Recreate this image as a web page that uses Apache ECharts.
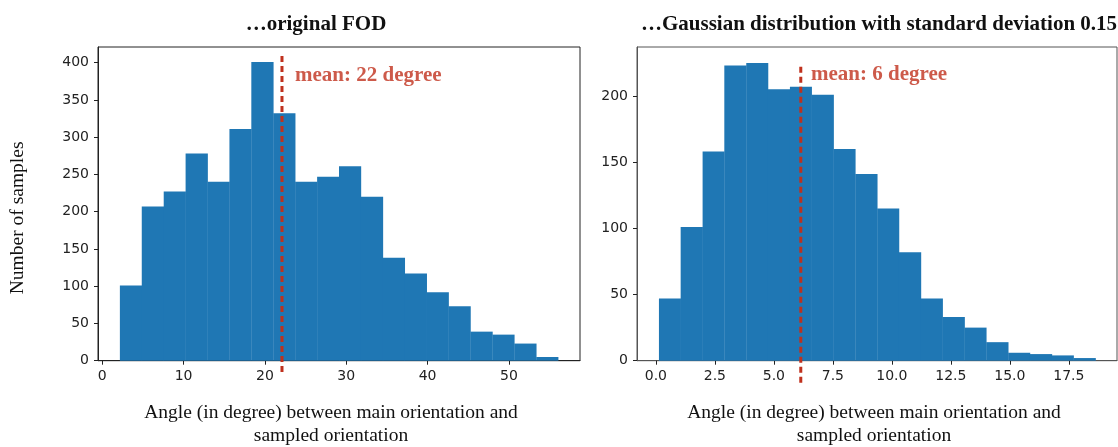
<!DOCTYPE html>
<html>
<head>
<meta charset="utf-8">
<script src="https://cdn.jsdelivr.net/npm/echarts@6/dist/echarts.min.js"></script>
<style>
html,body{margin:0;padding:0;background:#fff;}
#chart{width:1118px;height:447px;}
</style>
</head>
<body>
<div id="chart"></div>
<script>
// ---- Data ----
const leftTitle = '\u2026original FOD';
const rightTitle = '\u2026Gaussian distribution with standard deviation 0.15';
const xName = 'Angle (in degree) between main orientation and\nsampled orientation';
const yName = 'Number of samples';

const leftEdges = [2.17, 4.86, 7.56, 10.25, 12.95, 15.64, 18.33, 21.03, 23.72, 26.42, 29.11,
                   31.80, 34.50, 37.19, 39.89, 42.58, 45.27, 47.97, 50.66, 53.36, 56.05];
const leftCounts = [101, 207, 227, 278, 240, 311, 401, 332, 240, 247, 261,
                    220, 138, 117, 92, 73, 39, 35, 23, 5];
const leftMean = 22.1;
const leftMeanLabel = 'mean: 22 degree';

const rightEdges = [0.13, 1.05, 1.98, 2.90, 3.83, 4.75, 5.68, 6.60, 7.53, 8.45, 9.38,
                    10.30, 11.23, 12.15, 13.08, 14.00, 14.93, 15.85, 16.78, 17.70, 18.63];
const rightCounts = [47, 101, 158, 223, 225, 205, 207, 201, 160, 141,
                     115, 82, 47, 33, 25, 14, 6, 5, 4, 2];
const rightMean = 6.14;
const rightMeanLabel = 'mean: 6 degree';

const leftXTicks = [0, 10, 20, 30, 40, 50];
const leftYTicks = [0, 50, 100, 150, 200, 250, 300, 350, 400];
const rightXTicks = [0, 2.5, 5, 7.5, 10, 12.5, 15, 17.5];
const rightYTicks = [0, 50, 100, 150, 200];

// ---- Build ----
function bins(edges, counts){
  return counts.map((c,i)=>[edges[i], edges[i+1], c]);
}
const barColor = '#1f77b4';
const red = '#c0311d';
function renderBar(params, api){
  const x0 = api.value(0), x1 = api.value(1), h = api.value(2);
  const p0 = api.coord([x0, h]);
  const p1 = api.coord([x1, 0]);
  return {type:'rect', shape:{x:p0[0], y:p0[1], width:p1[0]-p0[0]+0.3, height:p1[1]-p0[1]},
          style:{fill:barColor}};
}
const tickFont = {fontFamily:'DejaVu Sans', fontSize:14, color:'#222'};
function xAxis(idx, min, max, ticks, fmt, lineColor, shift){
  return {type:'value', gridIndex:idx, min:min, max:max,
    axisLine:{show:true, onZero:false, lineStyle:{color:lineColor, width:1}},
    axisTick:{show:true, inside:false, length:4, customValues:ticks, lineStyle:{color:'#222'}},
    axisLabel:Object.assign({margin:9, customValues:ticks, formatter:fmt}, tickFont),
    splitLine:{show:false},
    name:xName, nameLocation:'middle', nameGap:40,
    nameTextStyle:{fontFamily:'Liberation Serif', fontSize:19.5, color:'#111', lineHeight:23.5,
                   padding:[0, shift, 0, 0]}};
}
function yAxis(idx, max, ticks, name, lineColor){
  const a = {type:'value', gridIndex:idx, min:0, max:max,
    axisLine:{show:true, onZero:false, lineStyle:{color:lineColor, width:1}},
    axisTick:{show:true, inside:false, length:4, customValues:ticks, lineStyle:{color:'#222'}},
    axisLabel:Object.assign({margin:9, customValues:ticks}, tickFont),
    splitLine:{show:false}};
  if(name){
    a.name = name; a.nameLocation='middle'; a.nameGap=70; a.nameRotate=90;
    a.nameTextStyle={fontFamily:'Liberation Serif', fontSize:19.5, color:'#111', padding:[0,28,0,0]};
  }
  return a;
}
const meanLabelStyle = {show:true, position:'right', distance:0,
  fontFamily:'Liberation Serif', fontWeight:'bold', fontSize:21, color:red};

const option = {
  animation:false,
  backgroundColor:'#fff',
  title:[
    {text:leftTitle, left:311, top:9, textAlign:'center',
     textStyle:{fontFamily:'Liberation Serif', fontWeight:'bold', fontSize:21, color:'#111'}},
    {text:rightTitle, left:874, top:9, textAlign:'center',
     textStyle:{fontFamily:'Liberation Serif', fontWeight:'bold', fontSize:21, color:'#111'}}
  ],
  grid:[
    {left:98, top:47, width:482, height:313.7, outerBoundsMode:'none', containLabel:false,
     show:true, borderColor:'#222', borderWidth:1, backgroundColor:'transparent'},
    {left:637, top:47, width:480, height:313.7, outerBoundsMode:'none', containLabel:false,
     show:true, borderColor:'#555', borderWidth:1, backgroundColor:'transparent'}
  ],
  xAxis:[
    xAxis(0, -0.52, 58.74, leftXTicks, v=>String(v), '#222', 16),
    xAxis(1, -0.80, 19.54, rightXTicks, v=>v.toFixed(1), '#555', 6)
  ],
  yAxis:[
    yAxis(0, 421, leftYTicks, yName, '#222'),
    yAxis(1, 237, rightYTicks, null, '#555')
  ],
  series:[
    {type:'custom', xAxisIndex:0, yAxisIndex:0, renderItem:renderBar, data:bins(leftEdges,leftCounts), z:2},
    {type:'custom', xAxisIndex:1, yAxisIndex:1, renderItem:renderBar, data:bins(rightEdges,rightCounts), z:2},
    {type:'line', xAxisIndex:0, yAxisIndex:0, clip:false, symbol:'none', z:5,
     lineStyle:{color:red, width:3, type:[6,4]}, data:[[leftMean, 409],[leftMean, -19]]},
    {type:'line', xAxisIndex:1, yAxisIndex:1, clip:false, symbol:'none', z:5,
     lineStyle:{color:red, width:3, type:[6,4]}, data:[[rightMean, 222],[rightMean, -17]]},
    {type:'scatter', xAxisIndex:0, yAxisIndex:0, symbolSize:0.1, itemStyle:{color:'rgba(0,0,0,0)'},
     label:Object.assign({formatter:leftMeanLabel}, meanLabelStyle), data:[[23.7, 383]], z:6},
    {type:'scatter', xAxisIndex:1, yAxisIndex:1, symbolSize:0.1, itemStyle:{color:'rgba(0,0,0,0)'},
     label:Object.assign({formatter:rightMeanLabel}, meanLabelStyle), data:[[6.57, 216]], z:6}
  ]
};
const chart = echarts.init(document.getElementById('chart'), null, {renderer:'canvas'});
chart.setOption(option);
</script>
</body>
</html>
